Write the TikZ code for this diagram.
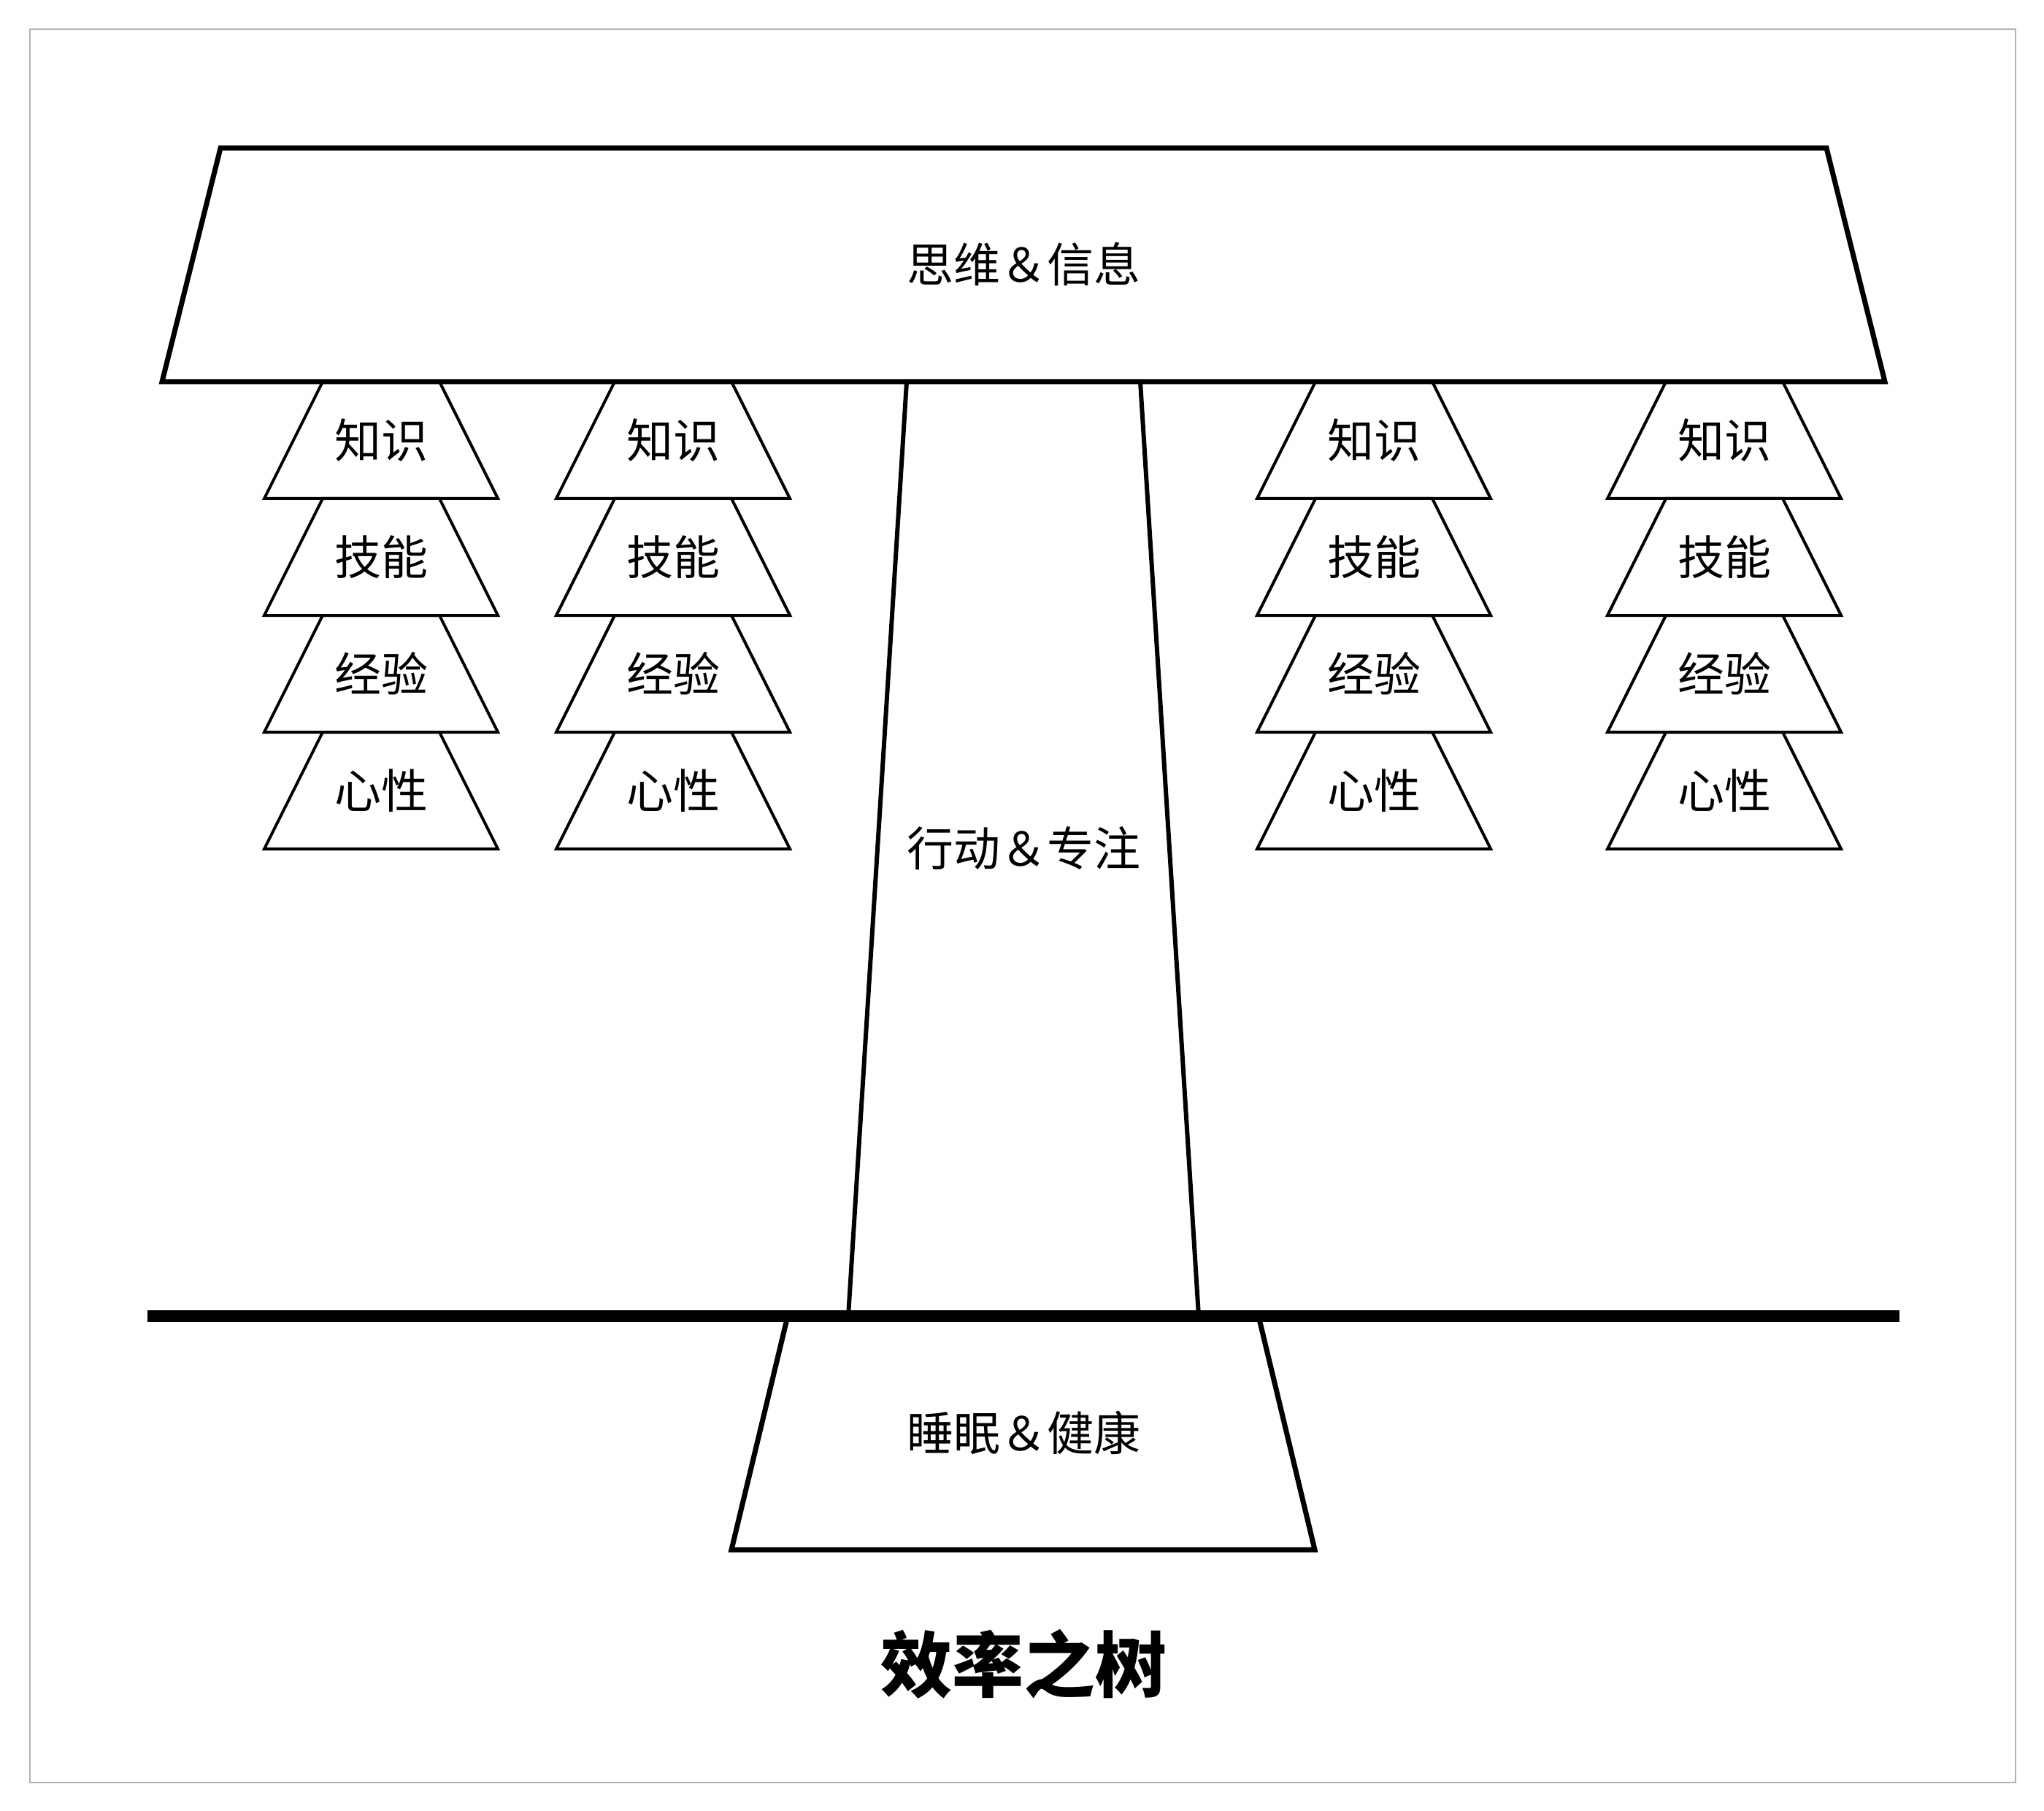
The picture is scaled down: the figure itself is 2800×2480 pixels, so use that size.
\documentclass[tikz,border=0pt]{standalone}
\usepackage{fontspec}
\setmainfont{Noto Sans CJK SC}
\begin{document}
\begin{tikzpicture}[x=0.25pt,y=-0.25pt,
  frame/.style={draw=black!30, line width=0.6pt},
  crown/.style={draw=black, line width=1.75pt, line join=miter},
  trunkpart/.style={draw=black, line width=1.5pt, line join=miter},
  rootpart/.style={draw=black, line width=1.75pt, line join=miter},
  ground/.style={draw=black, line width=4pt},
  leaf/.style={draw=black, line width=1pt, line join=miter},
  lbl/.style={inner sep=0pt, font=\fontsize{16pt}{16pt}\selectfont},
  ttl/.style={inner sep=0pt, font=\fontsize{24.5pt}{24.5pt}\selectfont\bfseries}]
  % page and frame
  \useasboundingbox (0,0) rectangle (2800,2480);
  \fill[white] (0,0) rectangle (2800,2480);
  \draw[frame] (41,40) rectangle (2761,2442);

  % leaves hanging from the crown: four stacked trapezia per column
  \foreach \cx [count=\c] in {522,922,1882,2362} {
    \foreach \txt [count=\r] in {知识,技能,经验,心性} {
      \pgfmathsetmacro{\ytop}{523+160*(\r-1)}
      \pgfmathsetmacro{\ybot}{\ytop+160}
      \draw[leaf] (\cx-80,\ytop) -- (\cx+80,\ytop) -- (\cx+160,\ybot) -- (\cx-160,\ybot) -- cycle;
      \node[lbl] (leaf-\c-\r) at (\cx,\ytop+80) {\txt};
    }
  }

  % trunk
  \draw[trunkpart] (1242,523) -- (1562,523) -- (1642,1803) -- (1162,1803) -- cycle;
  \node[lbl] (trunk) at (1402,1162) {行动＆专注};

  % crown
  \draw[crown] (302,203) -- (2502,203) -- (2582,523) -- (222,523) -- cycle;
  \node[lbl] (crown) at (1402,362) {思维＆信息};

  % root
  \draw[rootpart] (1079,1803) -- (1724,1803) -- (1801,2123) -- (1002,2123) -- cycle;
  \node[lbl] (root) at (1402,1963) {睡眠＆健康};

  % ground line
  \coordinate (gl) at (202,1803);
  \coordinate (gr) at (2602,1803);
  \draw[ground] (gl) -- (gr);

  % title
  \node[ttl] (title) at (1402,2280) {效率之树};
\end{tikzpicture}
\end{document}
